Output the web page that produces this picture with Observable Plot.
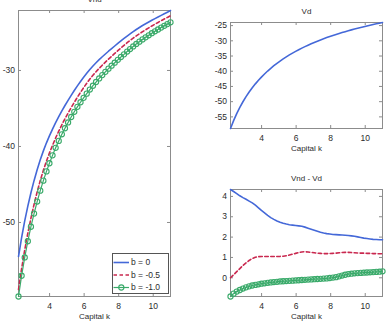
<!DOCTYPE html>
<html>
<head>
<meta charset="utf-8">
<script src="https://cdn.jsdelivr.net/npm/d3@7"></script>
<script src="https://cdn.jsdelivr.net/npm/@observablehq/plot@0.6"></script>
<style>
  html, body { margin: 0; padding: 0; background: #fff; }
  #fig { position: relative; width: 387px; height: 323px; overflow: hidden;
         font-family: "Liberation Sans", Arial, sans-serif; }
  #fig > svg { position: absolute; }
</style>
</head>
<body>
<div id="fig"></div>
<script>
// Capital grid
const capital = [
  2.20, 2.38, 2.56, 2.74, 2.92, 3.10, 3.28, 3.46, 3.64, 3.82,
  3.99, 4.17, 4.35, 4.53, 4.71, 4.89, 5.07, 5.25, 5.43, 5.61,
  5.79, 5.97, 6.15, 6.33, 6.51, 6.69, 6.87, 7.05, 7.23, 7.41,
  7.59, 7.77, 7.95, 8.13, 8.31, 8.49, 8.66, 8.84, 9.02, 9.20,
  9.38, 9.56, 9.74, 9.92, 10.10, 10.28, 10.46, 10.64, 10.82, 11.00
];

// Value of default, Vd
const vd = [
  -58.82, -56.23, -53.92, -51.87, -50.03, -48.36, -46.83, -45.43, -44.15, -42.96,
  -41.92, -40.90, -39.93, -39.04, -38.19, -37.40, -36.66, -35.95, -35.28, -34.64,
  -34.04, -33.47, -32.93, -32.40, -31.91, -31.43, -30.97, -30.54, -30.12, -29.71,
  -29.33, -28.95, -28.59, -28.24, -27.91, -27.58, -27.29, -26.99, -26.69, -26.41,
  -26.13, -25.87, -25.61, -25.35, -25.11, -24.88, -24.64, -24.42, -24.20, -23.98
];

// Vnd - Vd for each b
const gapB0 = [
  4.34, 4.24, 4.14, 4.03, 3.94, 3.86, 3.77, 3.68, 3.57, 3.44,
  3.31, 3.19, 3.07, 2.96, 2.87, 2.79, 2.73, 2.68, 2.64, 2.61,
  2.59, 2.57, 2.55, 2.53, 2.49, 2.44, 2.39, 2.34, 2.29, 2.24,
  2.20, 2.17, 2.15, 2.13, 2.12, 2.11, 2.10, 2.09, 2.08, 2.06,
  2.04, 2.01, 1.98, 1.95, 1.93, 1.91, 1.89, 1.88, 1.87, 1.87
];
const gapB05 = [
  0.00, 0.15, 0.30, 0.45, 0.60, 0.73, 0.85, 0.95, 1.01, 1.04,
  1.05, 1.05, 1.05, 1.05, 1.05, 1.05, 1.05, 1.06, 1.08, 1.12,
  1.16, 1.20, 1.24, 1.27, 1.28, 1.27, 1.25, 1.23, 1.21, 1.20,
  1.19, 1.19, 1.19, 1.20, 1.21, 1.23, 1.24, 1.25, 1.25, 1.24,
  1.23, 1.22, 1.21, 1.21, 1.20, 1.20, 1.19, 1.19, 1.18, 1.18
];
const gapB10 = [
  -0.92, -0.78, -0.68, -0.60, -0.53, -0.47, -0.42, -0.38, -0.35, -0.32,
  -0.29, -0.27, -0.25, -0.23, -0.21, -0.20, -0.18, -0.17, -0.16, -0.15,
  -0.14, -0.13, -0.12, -0.11, -0.10, -0.09, -0.08, -0.07, -0.06, -0.05,
  -0.04, -0.03, -0.01, 0.01, 0.03, 0.07, 0.11, 0.15, 0.18, 0.20,
  0.22, 0.23, 0.24, 0.25, 0.26, 0.27, 0.28, 0.29, 0.30, 0.32
];

const seriesNames = ["b = 0", "b = -0.5", "b = -1.0"];
const seriesColors = ["#4468d8", "#c9284f", "#3aaa6a"];

const xTicks = [4, 6, 8, 10];
const ticksVnd = [-50, -40, -30];
const ticksVd = [-55, -50, -45, -40, -35, -30, -25];
const ticksGap = [0, 1, 2, 3, 4];

// Tidy rows: one per capital level and series
const gaps = [gapB0, gapB05, gapB10];
const rows = gaps.flatMap((g, s) => capital.map((k, i) => ({
  k, series: seriesNames[s], gap: g[i], vnd: vd[i] + g[i]
})));
const vdRows = capital.map((k, i) => ({k, vd: vd[i]}));
const bySeries = name => rows.filter(d => d.series === name);

const axisGray = "#8c8c8c";
const textGray = "#2b2b2b";
const FONT = "'Liberation Sans', Arial, sans-serif";
const plain = d => String(d); // hyphen-minus tick labels

function seriesMarks(yField) {
  return [
    Plot.line(bySeries(seriesNames[0]), {x: "k", y: yField, stroke: seriesColors[0], strokeWidth: 1.6}),
    Plot.line(bySeries(seriesNames[1]), {x: "k", y: yField, stroke: seriesColors[1], strokeWidth: 1.6, strokeDasharray: "3.5,2.5"}),
    Plot.line(bySeries(seriesNames[2]), {x: "k", y: yField, stroke: seriesColors[2], strokeWidth: 1.2}),
    Plot.dot(bySeries(seriesNames[2]), {x: "k", y: yField, r: 2.6, stroke: seriesColors[2], strokeWidth: 1.1, fill: "none"})
  ];
}

function panel({title, yTicks, yDomain, width, height, marginLeft, marginRight, marginTop, marginBottom, marks}) {
  const innerW = width - marginLeft - marginRight;
  const innerH = height - marginTop - marginBottom;
  const t = 3;
  return Plot.plot({
    width, height, marginLeft, marginRight, marginTop, marginBottom,
    style: {fontFamily: FONT, fontSize: "8.5px", color: textGray, background: "transparent"},
    x: {domain: d3.extent(capital)},
    y: {domain: yDomain},
    marks: [
      // inward ticks on all four sides
      Plot.tickX(xTicks, {x: d => d, insetTop: innerH - t, stroke: axisGray}),
      Plot.tickX(xTicks, {x: d => d, insetBottom: innerH - t, stroke: axisGray}),
      Plot.tickY(yTicks, {y: d => d, insetRight: innerW - t, stroke: axisGray}),
      Plot.tickY(yTicks, {y: d => d, insetLeft: innerW - t, stroke: axisGray}),
      Plot.frame({stroke: axisGray}),
      Plot.axisX(xTicks, {tickSize: 0, tickPadding: 6, label: null, fill: textGray, tickFormat: plain}),
      Plot.axisY(yTicks, {tickSize: 0, tickPadding: 3.5, label: null, fill: textGray, tickFormat: plain}),
      Plot.text([title], {frameAnchor: "top", dy: -11, lineAnchor: "middle", fontSize: 8, fill: textGray}),
      Plot.text(["Capital k"], {frameAnchor: "bottom", dy: 20, lineAnchor: "middle", fontSize: 8, fill: textGray}),
      ...marks
    ]
  });
}

const fig = document.getElementById("fig");

// Left: Vnd for each b
const left = panel({
  title: "Vnd", yTicks: ticksVnd, yDomain: d3.extent(rows, d => d.vnd),
  width: 193, height: 335, marginLeft: 18, marginRight: 23, marginTop: 22, marginBottom: 27,
  marks: seriesMarks("vnd")
});
left.style.left = "0px"; left.style.top = "-12px";
fig.appendChild(left);

// Top right: Vd
const topRight = panel({
  title: "Vd", yTicks: ticksVd, yDomain: d3.extent(vd),
  width: 194, height: 155, marginLeft: 37, marginRight: 5, marginTop: 22, marginBottom: 27,
  marks: [Plot.line(vdRows, {x: "k", y: "vd", stroke: seriesColors[0], strokeWidth: 1.6})]
});
topRight.style.left = "193px"; topRight.style.top = "0px";
fig.appendChild(topRight);

// Bottom right: Vnd - Vd
const bottomRight = panel({
  title: "Vnd - Vd", yTicks: ticksGap, yDomain: d3.extent(rows, d => d.gap),
  width: 194, height: 156, marginLeft: 37, marginRight: 5, marginTop: 22, marginBottom: 27,
  marks: seriesMarks("gap")
});
bottomRight.style.left = "193px"; bottomRight.style.top = "167px";
fig.appendChild(bottomRight);

// Legend box for the left panel
const legend = d3.create("svg")
  .attr("width", 58).attr("height", 42)
  .style("left", "112px").style("top", "253px")
  .style("font-family", FONT).style("font-size", "8.5px");
legend.append("rect").attr("x", 0.5).attr("y", 0.5).attr("width", 56).attr("height", 40)
  .attr("fill", "#fff").attr("stroke", "#555");
const rowsY = [9.5, 22, 34.5];
seriesNames.forEach((name, i) => {
  const g = legend.append("g").attr("transform", `translate(0,${rowsY[i]})`);
  const ln = g.append("line").attr("x1", 1.5).attr("x2", 17).attr("y1", 0).attr("y2", 0)
    .attr("stroke", seriesColors[i]).attr("stroke-width", i === 2 ? 1.2 : 1.6);
  if (i === 1) ln.attr("stroke-dasharray", "3.5,2.5");
  if (i === 2) g.append("circle").attr("cx", 9.3).attr("cy", 0).attr("r", 2.6)
    .attr("fill", "none").attr("stroke", seriesColors[i]).attr("stroke-width", 1.1);
  g.append("text").attr("x", 19).attr("y", 0).attr("dy", "0.32em")
    .attr("fill", textGray).text(name);
});
fig.appendChild(legend.node());
</script>
</body>
</html>
